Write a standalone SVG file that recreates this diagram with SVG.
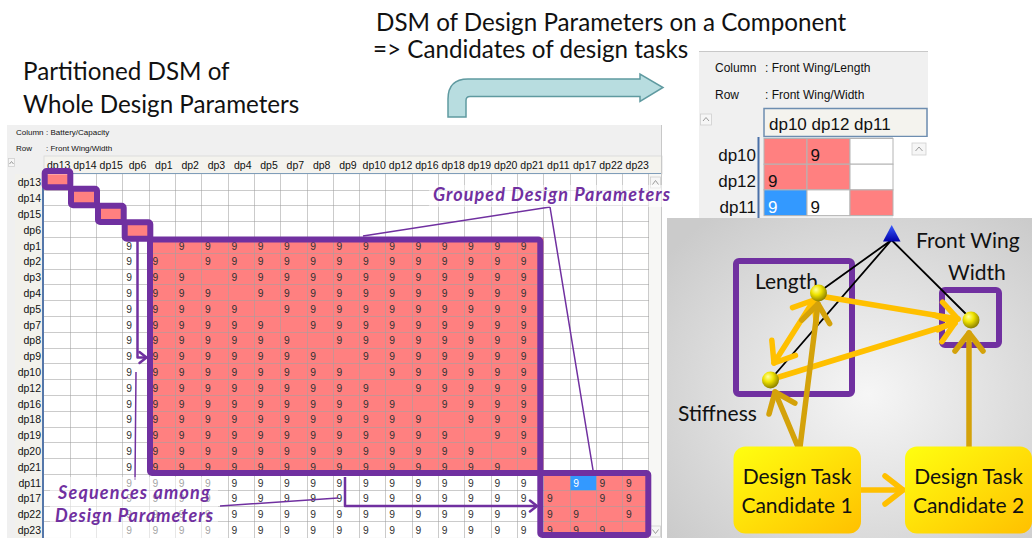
<svg xmlns="http://www.w3.org/2000/svg" width="1032" height="538" viewBox="0 0 1032 538">
<defs>
<style>
.title{font-family:Lato,"Open Sans",sans-serif;font-size:24.2px;fill:#111}
.ui{font-family:"Liberation Sans",Arial,sans-serif;fill:#111}
.hd{font-size:10.5px}
.n9{font-family:"Liberation Sans",Arial,sans-serif;font-size:10.3px;fill:#333}
.grid{stroke:#a0a0a0;stroke-opacity:.55;stroke-width:1;fill:none;shape-rendering:crispEdges}
.pk{fill:#ff8080}
.grp{fill:none;stroke:#7030a0;stroke-width:6;stroke-linejoin:round}
.call{fill:none;stroke:#7030a0;stroke-width:1.5}
.seq{fill:none;stroke:#7030a0;stroke-width:2.5;stroke-linejoin:round}
.note{font-family:Lato,"Open Sans",sans-serif;font-weight:bold;font-style:italic;font-size:18px;fill:#7030a0}
.lbl{font-family:Lato,"Open Sans",sans-serif;font-size:21px;fill:#111}
.tree{stroke:#000;stroke-width:1.8;fill:none}
.dep{fill:none;stroke:#ffc000;stroke-width:5.5;stroke-linecap:round}
.task{fill:none;stroke:#d4a20a;stroke-width:5.5;stroke-linecap:round}
.btn{fill:#f6f6f6;stroke:#cfcfcf;stroke-width:.8}
.chev{fill:none;stroke:#9a9a9a;stroke-width:1}
.cell{stroke:#b4b4b4;stroke-width:1}
</style>
<marker id="headY" viewBox="-22 -18 26 36" markerWidth="26" markerHeight="36" refX="0" refY="0" orient="auto-start-reverse" markerUnits="userSpaceOnUse">
<path d="M-18,-14 L0,0 L-18,14" fill="none" stroke="#ffc000" stroke-width="5.5" stroke-linecap="round" stroke-linejoin="round"/>
</marker>
<marker id="headG" viewBox="-22 -18 26 36" markerWidth="26" markerHeight="36" refX="0" refY="0" orient="auto" markerUnits="userSpaceOnUse">
<path d="M-18,-14 L0,0 L-18,14" fill="none" stroke="#d4a20a" stroke-width="5.5" stroke-linecap="round" stroke-linejoin="round"/>
</marker>
<marker id="headP" viewBox="-10 -8 12 16" markerWidth="12" markerHeight="16" refX="0" refY="0" orient="auto" markerUnits="userSpaceOnUse">
<path d="M-7,-5.5 L0,0 L-7,5.5" fill="none" stroke="#7030a0" stroke-width="2.5" stroke-linecap="round" stroke-linejoin="round"/>
</marker>
<radialGradient id="bg" cx="0.55" cy="0.55" r="0.7">
<stop offset="0" stop-color="#f6f6f6"/>
<stop offset="1" stop-color="#cbcbcb"/>
</radialGradient>
<radialGradient id="ball" cx="0.4" cy="0.35" r="0.65" fx="0.35" fy="0.3">
<stop offset="0" stop-color="#ffffa0"/>
<stop offset="0.45" stop-color="#f0e400"/>
<stop offset="1" stop-color="#8c8000"/>
</radialGradient>
<linearGradient id="taskFill" x1="0" y1="0" x2="1" y2="1">
<stop offset="0" stop-color="#ffff10"/>
<stop offset="1" stop-color="#ffc000"/>
</linearGradient>
<linearGradient id="tri" x1="0" y1="0" x2="0" y2="1">
<stop offset="0" stop-color="#3a5cff"/>
<stop offset="1" stop-color="#0000a8"/>
</linearGradient>
</defs>

<rect width="1032" height="538" fill="#fff"/>

<!-- headings -->
<text class="title" x="23" y="80">Partitioned DSM of</text>
<text class="title" x="23" y="113">Whole Design Parameters</text>
<text class="title" x="376" y="31">DSM of Design Parameters on a Component</text>
<text class="title" x="373" y="58">=&gt; Candidates of design tasks</text>

<!-- bent block arrow between the two matrices -->
<path id="flow-arrow" d="M448,117 V99 Q448,79 468,79 H640 V74 L663,87.5 L640,101.5 V96.5 H470 Q466,96.5 466,100.5 V117 Z" fill="#b8dde0" stroke="#5f9aa0" stroke-width="1.5"/>

<!-- full partitioned DSM window -->
<g id="dsm-whole">
<rect x="7" y="125" width="655" height="413" fill="#f0f0f0"/>
<text class="ui" font-size="8" x="16" y="135">Column</text>
<text class="ui" font-size="8" x="46" y="135">: Battery/Capacity</text>
<text class="ui" font-size="8" x="16" y="151">Row</text>
<text class="ui" font-size="8" x="46" y="151">: Front Wing/Width</text>
<rect x="44" y="156" width="618" height="18" fill="#f4f3ee" stroke="#d8d8d8" stroke-width=".8"/>
<line x1="44" y1="173.5" x2="662" y2="173.5" stroke="#7f9db9" stroke-width="1"/>
<rect x="15" y="174" width="29" height="364" fill="#f2f1ec"/>
<rect x="8.5" y="158.5" width="6" height="8" class="btn"/>
<polyline points="9.5,164 11.5,161.5 13.5,164" class="chev"/>
<rect x="649" y="174" width="13" height="364" fill="#f7f7f5"/>
<line x1="661.5" y1="125" x2="661.5" y2="538" stroke="#c8c8c8"/>
<rect x="650.5" y="177" width="10" height="11" class="btn"/>
<polyline points="652.5,184.5 655.5,180.5 658.5,184.5" class="chev"/>
<rect x="650.5" y="526" width="10" height="11" class="btn"/>
<polyline points="652.5,529.5 655.5,533.5 658.5,529.5" class="chev"/>

<g transform="translate(44,174.3)">
<rect width="604.9" height="363.4" fill="#fff"/>
<rect class="pk" x="0" y="0" width="26.3" height="15.8"/>
<rect class="pk" x="26.3" y="15.8" width="26.3" height="15.8"/>
<rect class="pk" x="52.6" y="31.6" width="26.3" height="15.8"/>
<rect class="pk" x="78.9" y="47.4" width="26.3" height="15.8"/>
<rect class="pk" x="105.2" y="63.2" width="394.5" height="237"/>
<rect class="pk" x="499.7" y="300.2" width="105.2" height="63.2"/>
<rect x="526" y="300.2" width="26.3" height="15.8" fill="#3399ff"/>
<path class="grid" d="M26.3,0V363.4M52.6,0V363.4M78.9,0V363.4M105.2,0V363.4M131.5,0V363.4M157.8,0V363.4M184.1,0V363.4M210.4,0V363.4M236.7,0V363.4M263,0V363.4M289.3,0V363.4M315.6,0V363.4M341.9,0V363.4M368.2,0V363.4M394.5,0V363.4M420.8,0V363.4M447.1,0V363.4M473.4,0V363.4M499.7,0V363.4M526,0V363.4M552.3,0V363.4M578.6,0V363.4M604.9,0V363.4"/>
<path class="grid" d="M0,15.8H604.9M0,31.6H604.9M0,47.4H604.9M0,63.2H604.9M0,79H604.9M0,94.8H604.9M0,110.6H604.9M0,126.4H604.9M0,142.2H604.9M0,158H604.9M0,173.8H604.9M0,189.6H604.9M0,205.4H604.9M0,221.2H604.9M0,237H604.9M0,252.8H604.9M0,268.6H604.9M0,284.4H604.9M0,300.2H604.9M0,316H604.9M0,331.8H604.9M0,347.6H604.9"/>
<line x1="-1" y1="-2" x2="-1" y2="363.7" stroke="#5577aa" stroke-width="2"/>

<!-- column headings -->
<text class="ui hd" y="-5.3" text-anchor="middle"><tspan x="14.65">dp13</tspan><tspan x="40.95">dp14</tspan><tspan x="67.25">dp15</tspan><tspan x="93.55">dp6</tspan><tspan x="119.85">dp1</tspan><tspan x="146.15">dp2</tspan><tspan x="172.45">dp3</tspan><tspan x="198.75">dp4</tspan><tspan x="225.05">dp5</tspan><tspan x="251.35">dp7</tspan><tspan x="277.65">dp8</tspan><tspan x="303.95">dp9</tspan><tspan x="330.25">dp10</tspan><tspan x="356.55">dp12</tspan><tspan x="382.85">dp16</tspan><tspan x="409.15">dp18</tspan><tspan x="435.45">dp19</tspan><tspan x="461.75">dp20</tspan><tspan x="488.05">dp21</tspan><tspan x="514.35">dp11</tspan><tspan x="540.65">dp17</tspan><tspan x="566.95">dp22</tspan><tspan x="593.25">dp23</tspan></text>
<!-- row headings -->
<text class="ui hd" x="-3" text-anchor="end"><tspan x="-3" y="12.2">dp13</tspan><tspan x="-3" y="28">dp14</tspan><tspan x="-3" y="43.8">dp15</tspan><tspan x="-3" y="59.6">dp6</tspan><tspan x="-3" y="75.4">dp1</tspan><tspan x="-3" y="91.2">dp2</tspan><tspan x="-3" y="107">dp3</tspan><tspan x="-3" y="122.8">dp4</tspan><tspan x="-3" y="138.6">dp5</tspan><tspan x="-3" y="154.4">dp7</tspan><tspan x="-3" y="170.2">dp8</tspan><tspan x="-3" y="186">dp9</tspan><tspan x="-3" y="201.8">dp10</tspan><tspan x="-3" y="217.6">dp12</tspan><tspan x="-3" y="233.4">dp16</tspan><tspan x="-3" y="249.2">dp18</tspan><tspan x="-3" y="265">dp19</tspan><tspan x="-3" y="280.8">dp20</tspan><tspan x="-3" y="296.6">dp21</tspan><tspan x="-3" y="312.4">dp11</tspan><tspan x="-3" y="328.2">dp17</tspan><tspan x="-3" y="344">dp22</tspan><tspan x="-3" y="359.8">dp23</tspan></text>

<!-- dependency marks -->
<text class="n9" x="82.2 134.8 161.1 187.4 213.7 240 266.3 292.6 318.9 345.2 371.5 397.8 424.1 450.4 476.7" y="75.4">999999999999999</text>
<text class="n9" x="82.2 108.5 161.1 187.4 213.7 240 266.3 292.6 318.9 345.2 371.5 397.8 424.1 450.4 476.7" y="91.2">999999999999999</text>
<text class="n9" x="82.2 108.5 134.8 187.4 213.7 240 266.3 292.6 318.9 345.2 371.5 397.8 424.1 450.4 476.7" y="107">999999999999999</text>
<text class="n9" x="82.2 108.5 134.8 161.1 213.7 240 266.3 292.6 318.9 345.2 371.5 397.8 424.1 450.4 476.7" y="122.8">999999999999999</text>
<text class="n9" x="82.2 108.5 134.8 161.1 187.4 240 266.3 292.6 318.9 345.2 371.5 397.8 424.1 450.4 476.7" y="138.6">999999999999999</text>
<text class="n9" x="82.2 108.5 134.8 161.1 187.4 213.7 266.3 292.6 318.9 345.2 371.5 397.8 424.1 450.4 476.7" y="154.4">999999999999999</text>
<text class="n9" x="82.2 108.5 134.8 161.1 187.4 213.7 240 292.6 318.9 345.2 371.5 397.8 424.1 450.4 476.7" y="170.2">999999999999999</text>
<text class="n9" x="82.2 108.5 134.8 161.1 187.4 213.7 240 266.3 318.9 345.2 371.5 397.8 424.1 450.4 476.7" y="186">999999999999999</text>
<text class="n9" x="82.2 108.5 134.8 161.1 187.4 213.7 240 266.3 292.6 345.2 371.5 397.8 424.1 450.4 476.7" y="201.8">999999999999999</text>
<text class="n9" x="82.2 108.5 134.8 161.1 187.4 213.7 240 266.3 292.6 318.9 371.5 397.8 424.1 450.4 476.7" y="217.6">999999999999999</text>
<text class="n9" x="82.2 108.5 134.8 161.1 187.4 213.7 240 266.3 292.6 318.9 345.2 397.8 424.1 450.4 476.7" y="233.4">999999999999999</text>
<text class="n9" x="82.2 108.5 134.8 161.1 187.4 213.7 240 266.3 292.6 318.9 345.2 371.5 424.1 450.4 476.7" y="249.2">999999999999999</text>
<text class="n9" x="82.2 108.5 134.8 161.1 187.4 213.7 240 266.3 292.6 318.9 345.2 371.5 397.8 450.4 476.7" y="265">999999999999999</text>
<text class="n9" x="82.2 108.5 134.8 161.1 187.4 213.7 240 266.3 292.6 318.9 345.2 371.5 397.8 424.1 476.7" y="280.8">999999999999999</text>
<text class="n9" x="82.2 108.5 134.8 161.1 187.4 213.7 240 266.3 292.6 318.9 345.2 371.5 397.8 424.1 450.4" y="296.6">999999999999999</text>
<text class="n9" x="82.2 108.5 134.8 161.1 187.4 213.7 240 266.3 292.6 318.9 345.2 371.5 397.8 424.1 450.4 476.7" y="312.4">9999999999999999</text>
<text class="n9" x="529.3" y="312.4" style="fill:#fff">9</text>
<text class="n9" x="555.6 581.9" y="312.4">99</text>
<text class="n9" x="82.2 108.5 134.8 161.1 187.4 213.7 240 266.3 292.6 318.9 345.2 371.5 397.8 424.1 450.4 476.7 503 555.6 581.9" y="328.2">9999999999999999999</text>
<text class="n9" x="82.2 108.5 134.8 161.1 187.4 213.7 240 266.3 292.6 318.9 345.2 371.5 397.8 424.1 450.4 476.7 503 529.3 581.9" y="344">9999999999999999999</text>
<text class="n9" x="82.2 108.5 134.8 161.1 187.4 213.7 240 266.3 292.6 318.9 345.2 371.5 397.8 424.1 450.4 476.7 503 529.3 555.6" y="359.8">9999999999999999999</text>
</g>
</g>

<!-- groupings and sequences drawn over the matrix -->
<g id="dsm-groups">
<rect class="grp" x="44.7" y="171" width="25.6" height="16.2" rx="2"/>
<rect class="grp" x="71" y="188.7" width="26" height="16.6" rx="2"/>
<rect class="grp" x="98" y="205.7" width="25.7" height="16.3" rx="2"/>
<rect class="grp" x="124.7" y="222.3" width="25.6" height="16.4" rx="2"/>
<rect class="grp" x="150" y="239.5" width="390.3" height="233.5" rx="2"/>
<rect class="grp" x="540.3" y="473" width="108" height="62" rx="2"/>
</g>
<g id="dsm-sequences">
<path class="seq" d="M137.5,238 V357.5 H146.5" marker-end="url(#headP)"/>
<path class="seq" d="M345,477 V506 H537" marker-end="url(#headP)"/>
<path class="call" d="M550,207 L363,236 M550,207 L593,470 M136,372 L135,480 M220,506 L338,498"/>
</g>
<g id="dsm-notes">
<rect x="429" y="185" width="241" height="22" fill="#fff" fill-opacity=".5"/>
<text class="note" x="433" y="201" textLength="237" lengthAdjust="spacing">Grouped Design Parameters</text>
<rect x="50" y="477" width="168" height="61" fill="#fff" fill-opacity=".55"/>
<text class="note" x="58" y="499" textLength="152" lengthAdjust="spacing">Sequences among</text>
<text class="note" x="55" y="521.5" textLength="158" lengthAdjust="spacing">Design Parameters</text>
</g>

<!-- component DSM window -->
<g id="dsm-component">
<rect x="699" y="51" width="229" height="167" fill="#f0f0f0"/>
<line x1="699" y1="51.5" x2="928" y2="51.5" stroke="#c8c8c8"/>
<text class="ui" font-size="12" x="715" y="72">Column</text>
<text class="ui" font-size="12" x="765" y="72">: Front Wing/Length</text>
<text class="ui" font-size="12" x="715" y="99">Row</text>
<text class="ui" font-size="12" x="765" y="99">: Front Wing/Width</text>
<rect x="700.5" y="114" width="11" height="11" class="btn"/>
<polyline points="703,121 706,117.5 709,121" class="chev"/>
<rect x="764" y="108.5" width="163" height="28" fill="#f4f3ee" stroke="#6d8db0" stroke-width="1.5"/>
<text class="ui" font-size="17" x="769" y="130">dp10 dp12 dp11</text>
<line x1="758.5" y1="137" x2="758.5" y2="218" stroke="#4a70a8" stroke-width="2"/>
<text class="ui" font-size="17" text-anchor="end"><tspan x="756" y="160.5">dp10</tspan><tspan x="756" y="186.5">dp12</tspan><tspan x="756" y="212.5">dp11</tspan></text>
<rect x="893" y="137" width="35" height="81" fill="#fff"/>
<rect x="912" y="143" width="14" height="12" class="btn"/>
<polyline points="915.5,151 919,147 922.5,151" class="chev"/>
<rect class="cell pk" x="764" y="138.5" width="43" height="25.7"/>
<rect class="cell pk" x="807" y="138.5" width="43" height="25.7"/>
<rect class="cell" x="850" y="138.5" width="43" height="25.7" fill="#fff"/>
<rect class="cell pk" x="764" y="164.2" width="43" height="25.7"/>
<rect class="cell pk" x="807" y="164.2" width="43" height="25.7"/>
<rect class="cell" x="850" y="164.2" width="43" height="25.7" fill="#fff"/>
<rect class="cell" x="764" y="189.9" width="43" height="25.7" fill="#3399ff"/>
<rect class="cell" x="807" y="189.9" width="43" height="25.7" fill="#fff"/>
<rect class="cell pk" x="850" y="189.9" width="43" height="25.7"/>
<text class="ui" font-size="17" x="810.5" y="160.5">9</text>
<text class="ui" font-size="17" x="768" y="186.5">9</text>
<text class="ui" font-size="17" x="768" y="212.5" style="fill:#fff">9</text>
<text class="ui" font-size="17" x="810.5" y="212.5">9</text>
</g>

<!-- component structure and design task candidates -->
<rect x="667" y="218" width="365" height="320" fill="url(#bg)"/>

<g id="length-group">
<rect class="grp" x="736" y="261" width="116" height="133" rx="3"/>
</g>
<g id="width-group">
<rect class="grp" x="942" y="290" width="57" height="55" rx="3"/>
</g>

<g id="connectors">
<path class="tree" d="M891.5,240 L819,292 M891.5,240 L771,379 M891.5,240 L970,318"/>
<path class="dep" d="M826,297 L958,319" marker-end="url(#headY)"/>
<path class="dep" d="M779,377 L955,323" marker-end="url(#headY)"/>
<path class="dep" d="M814,300 L774,363" marker-start="url(#headY)" marker-end="url(#headY)"/>
<path class="dep" d="M860,490 L903,490" marker-end="url(#headY)"/>
<path class="task" d="M798,447 L775,392" marker-end="url(#headG)"/>
<path class="task" d="M800,447 L818,304" marker-end="url(#headG)"/>
<path class="task" d="M969,447 L969,333" marker-end="url(#headG)"/>
</g>

<g id="front-wing">
<polygon points="891.7,225 883,241.5 900.5,241.5" fill="url(#tri)"/>
<text class="lbl" x="916" y="248">Front Wing</text>
</g>
<g id="length">
<text class="lbl" x="755" y="289">Length</text>
<circle cx="818.5" cy="293" r="8.5" fill="url(#ball)"/>
</g>
<g id="width">
<text class="lbl" x="948" y="280">Width</text>
<circle cx="971" cy="320" r="8.5" fill="url(#ball)"/>
</g>
<g id="stiffness">
<text class="lbl" x="678" y="421">Stiffness</text>
<circle cx="770.5" cy="380" r="8.5" fill="url(#ball)"/>
</g>
<g id="task-1">
<rect x="733.5" y="446.5" width="127.5" height="87" rx="12" fill="url(#taskFill)"/>
<text class="lbl" text-anchor="middle"><tspan x="797" y="484">Design Task</tspan><tspan x="797" y="513">Candidate 1</tspan></text>
</g>
<g id="task-2">
<rect x="905" y="446.5" width="127" height="87" rx="12" fill="url(#taskFill)"/>
<text class="lbl" text-anchor="middle"><tspan x="968.5" y="484">Design Task</tspan><tspan x="968.5" y="513">Candidate 2</tspan></text>
</g>
</svg>
